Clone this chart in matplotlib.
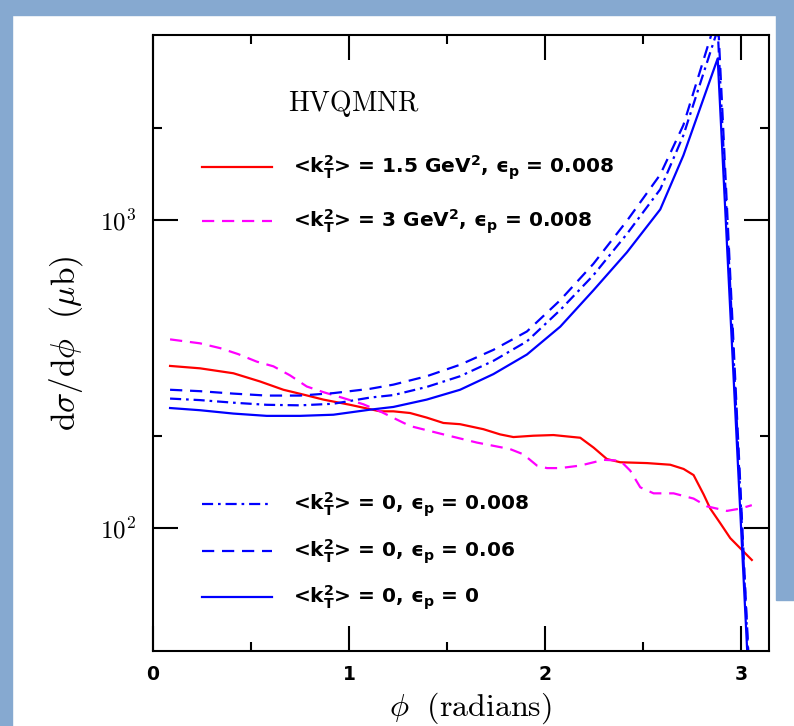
import numpy as np
import matplotlib
matplotlib.use("Agg")
import matplotlib.pyplot as plt
from matplotlib.patches import Rectangle
from matplotlib.ticker import FixedLocator, FixedFormatter, NullFormatter

plt.rcParams['mathtext.fontset'] = 'cm'

# dsigma/dphi (mub) vs phi (radians)
phi_red = [0.087, 0.240, 0.410, 0.546, 0.665, 0.767, 0.869, 1.005, 1.158, 1.226,
           1.311, 1.396, 1.481, 1.566, 1.685, 1.770, 1.838, 1.940, 2.042, 2.144,
           2.179, 2.247, 2.315, 2.383, 2.519, 2.638, 2.706, 2.757, 2.808, 2.842,
           2.893, 2.944, 3.054]
red = [337, 331, 319, 300, 282, 272, 262, 252, 240, 240,
       237, 229, 220, 218, 210, 202, 198, 200, 201, 198,
       197, 183, 168, 164, 163, 161, 156, 149, 129, 116,
       104, 93, 79]

phi_mag = [0.087, 0.240, 0.342, 0.435, 0.529, 0.614, 0.699, 0.784, 0.869, 0.971,
           1.073, 1.158, 1.311, 1.481, 1.652, 1.821, 1.889, 1.958, 2.009, 2.077,
           2.179, 2.298, 2.383, 2.434, 2.485, 2.553, 2.655, 2.757, 2.825, 2.927,
           2.995, 3.054]
mag = [411, 399, 385, 368, 348, 336, 314, 289, 277, 265,
       253, 240, 215, 202, 190, 181, 174, 160, 157, 157,
       160, 167, 166, 154, 136, 130, 130, 125, 118, 114,
       116, 119]

phi_blue = [0.087, 0.240, 0.410, 0.580, 0.750, 0.920, 1.107, 1.226, 1.396, 1.566,
            1.736, 1.907, 2.077, 2.246, 2.417, 2.587, 2.705, 2.880, 3.054]
blue_eps0 = [246, 242, 236, 232, 232, 234, 243, 248, 262, 282,
             317, 367, 452, 593, 788, 1086, 1626, 3357, 20]
blue_eps006 = [282, 279, 274, 270, 270, 275, 284, 293, 312, 340,
               380, 436, 551, 723, 997, 1409, 2040, 4680, 23]
blue_eps0008 = [264, 261, 256, 252, 251, 254, 266, 271, 288, 312,
                350, 405, 512, 664, 904, 1262, 1890, 4170, 22]

labels = [r'<k$_\mathbf{T}^\mathbf{2}$> = 1.5 GeV$^\mathbf{2}$, ϵ$_\mathbf{p}$ = 0.008',
          r'<k$_\mathbf{T}^\mathbf{2}$> = 3 GeV$^\mathbf{2}$, ϵ$_\mathbf{p}$ = 0.008',
          r'<k$_\mathbf{T}^\mathbf{2}$> = 0, ϵ$_\mathbf{p}$ = 0.008',
          r'<k$_\mathbf{T}^\mathbf{2}$> = 0, ϵ$_\mathbf{p}$ = 0.06',
          r'<k$_\mathbf{T}^\mathbf{2}$> = 0, ϵ$_\mathbf{p}$ = 0']

DASH = (0, (5.5, 3.5))
DASHDOT = (0, (5, 2.2, 1.2, 2.2))
series = [
    (phi_red, red, '#ff0000', '-'),
    (phi_mag, mag, '#ff00ff', DASH),
    (phi_blue, blue_eps0008, '#0000ff', DASHDOT),
    (phi_blue, blue_eps006, '#0000ff', DASH),
    (phi_blue, blue_eps0, '#0000ff', '-'),
]

fig = plt.figure(figsize=(7.94, 7.26), dpi=100)
fig.patch.set_facecolor('white')
bg = '#86a9d0'
fig.patches.append(Rectangle((0, 0), 12 / 794, 1, transform=fig.transFigure, color=bg, zorder=-10))
fig.patches.append(Rectangle((0, 1 - 15 / 726), 1, 15 / 726, transform=fig.transFigure, color=bg, zorder=-10))
fig.patches.append(Rectangle((776 / 794, 1 - 600 / 726), 18 / 794, 600 / 726, transform=fig.transFigure, color=bg, zorder=-10))

ax = fig.add_axes([153 / 794, 1 - 651 / 726, 616 / 794, 616 / 726])
ax.set_yscale('log')
ax.set_xlim(0, np.pi)
ax.set_ylim(40, 4000)

for x, y, c, ls in series:
    ax.plot(x, y, color=c, linestyle=ls, lw=1.6)

# ticks
ax.xaxis.set_major_locator(FixedLocator([0, 1, 2, 3]))
ax.xaxis.set_minor_locator(FixedLocator([0.5, 1.5, 2.5]))
ax.yaxis.set_major_locator(FixedLocator([100, 1000]))
ax.yaxis.set_major_formatter(FixedFormatter([r'$10^2$', r'$10^3$']))
ax.yaxis.set_minor_locator(FixedLocator([200, 2000]))
ax.yaxis.set_minor_formatter(NullFormatter())
ax.tick_params(which='both', direction='in', top=True, right=True, width=1.5)
ax.tick_params(which='major', length=18)
ax.tick_params(which='minor', length=6.5)
ax.tick_params(axis='x', labelsize=13.5, pad=10)
ax.tick_params(axis='y', labelsize=18, pad=12)
for t in ax.get_xticklabels():
    t.set_fontweight('bold')
for s in ax.spines.values():
    s.set_linewidth(1.5)

ax.set_xlabel(r'$\phi\ \ (\mathrm{radians})$', fontsize=23, va='center')
ax.xaxis.set_label_coords(0.515, -0.0925)
ax.set_ylabel(r'$\mathrm{d}\sigma/\mathrm{d}\phi\ \ (\mu\mathrm{b})$', fontsize=24, va='center')
ax.yaxis.set_label_coords(-0.141, 0.5)

ax.text(0.219, 0.8896, r'$\mathrm{HVQMNR}$', transform=ax.transAxes, fontsize=20,
        ha='left', va='center')

# legend drawn by hand, like the original
rows = [0.7857, 0.698, 0.2386, 0.1623, 0.0877]
for (x, y, c, ls), lab, yr in zip(series, labels, rows):
    ax.plot([0.0795, 0.193], [yr, yr], transform=ax.transAxes, color=c,
            linestyle=ls, lw=1.6, clip_on=False)
    ax.text(0.227, yr - 0.010, lab, transform=ax.transAxes, fontsize=14.5,
            fontweight='bold', family='DejaVu Sans', math_fontfamily='dejavusans',
            ha='left', va='baseline')

fig.savefig('out.png', dpi=100)
